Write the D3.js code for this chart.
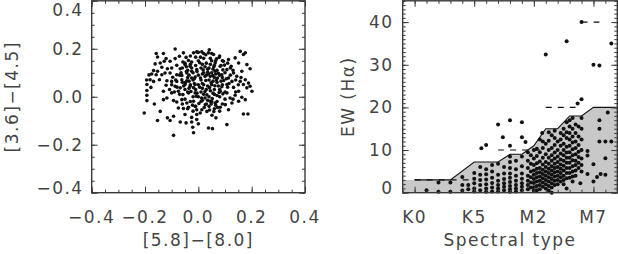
<!DOCTYPE html>
<html><head><meta charset="utf-8">
<script src="https://cdn.jsdelivr.net/npm/d3@7"></script>
<style>
html,body{margin:0;padding:0;background:#fff;}
svg{display:block;}
text{font-family:"DejaVu Sans",sans-serif;font-size:17px;fill:#444;letter-spacing:1.5px;}
</style></head><body>
<svg id="c" width="618" height="254"></svg>
<script>
// ---------- data ----------
const colorTicks = [-0.4, -0.2, 0, 0.2, 0.4];
const colorTickLabels = ["−0.4", "−0.2", "0.0", "0.2", "0.4"];
const colorXTitle = "[5.8]−[8.0]";
const colorYTitle = "[3.6]−[4.5]";
// [5.8]-[8.0], [3.6]-[4.5]
const colorPoints = [
[-0.087,0.199],[-0.158,0.180],[-0.153,0.166],[-0.131,0.180],[-0.121,0.159],[-0.106,0.148],[-0.087,0.159],[-0.071,0.169],
[-0.056,0.183],[-0.046,0.164],[-0.037,0.151],[-0.058,0.145],[-0.018,0.183],[-0.006,0.187],[-0.162,0.137],[-0.143,0.141],
[-0.128,0.148],[-0.137,0.123],[-0.168,0.109],[-0.153,0.106],[-0.116,0.117],[-0.100,0.120],[-0.081,0.131],[-0.068,0.117],
[-0.050,0.134],[-0.031,0.127],[-0.175,0.095],[-0.158,0.092],[-0.137,0.092],[-0.125,0.099],[-0.106,0.099],[-0.096,0.081],
[-0.081,0.092],[-0.062,0.089],[-0.043,0.099],[-0.025,0.106],[-0.006,0.113],[-0.181,0.071],[-0.168,0.064],[-0.146,0.071],
[-0.118,0.067],[-0.100,0.064],[-0.081,0.064],[-0.062,0.071],[-0.043,0.067],[-0.025,0.078],[-0.193,0.051],[-0.178,0.039],
[-0.121,0.048],[-0.108,0.030],[-0.087,0.044],[-0.068,0.037],[-0.050,0.051],[-0.031,0.044],[-0.012,0.051],[-0.193,0.026],
[-0.193,0.006],[-0.131,0.023],[-0.100,0.016],[-0.075,0.023],[-0.058,0.009],[-0.037,0.016],[-0.012,0.016],[-0.193,-0.016],
[-0.165,-0.030],[-0.131,-0.012],[-0.118,-0.005],[-0.093,-0.016],[-0.081,-0.022],[-0.062,-0.012],[-0.043,-0.026],[-0.018,-0.019],
[-0.075,-0.047],[-0.056,-0.049],[-0.037,-0.044],[-0.012,-0.040],[-0.006,-0.054],[-0.203,-0.068],[-0.143,-0.061],[-0.116,-0.088],
[-0.093,-0.081],[-0.050,-0.074],[-0.025,-0.086],[-0.006,-0.074],[-0.153,-0.099],[-0.106,-0.099],[-0.068,-0.105],[-0.046,-0.109],
[-0.025,-0.105],[-0.093,-0.161],[-0.021,-0.127],[-0.018,-0.150],[-0.194,0.070],[-0.185,0.091],
[0.041,0.196],[0.013,0.187],[0.057,0.176],[0.038,0.183],[0.078,0.164],[0.113,0.155],[0.094,0.148],[0.157,0.189],
[0.169,0.176],[0.176,0.183],[0.138,0.162],[0.151,0.141],[0.182,0.134],[0.194,0.117],[0.123,0.127],[0.107,0.113],
[0.082,0.127],[0.063,0.141],[0.163,0.106],[0.132,0.099],[0.144,0.085],[0.176,0.071],[0.188,0.057],[0.194,0.044],
[0.201,0.023],[0.182,0.037],[0.169,0.051],[0.157,0.064],[0.113,0.078],[0.088,0.092],[0.063,0.106],[0.126,0.064],
[0.107,0.051],[0.132,0.039],[0.151,0.023],[0.138,0.006],[0.163,-0.002],[0.119,-0.005],[0.107,0.016],[0.082,0.023],
[0.176,-0.012],[0.151,-0.019],[0.126,-0.026],[0.101,-0.033],[0.113,-0.054],[0.082,-0.044],[0.063,-0.026],[0.044,-0.019],
[0.026,-0.033],[0.013,-0.054],[0.007,-0.068],[0.032,-0.061],[0.051,-0.077],[0.066,-0.088],[0.169,-0.072],[0.186,-0.072],
[0.107,-0.116],[0.038,-0.130],[0.053,-0.133],[0.000,-0.113],[-0.006,-0.095],
[0.00,0.15],[0.02,0.16],[0.03,0.14],[-0.01,0.13],[0.01,0.12],[0.04,0.12],[0.05,0.15],[0.06,0.13],[0.07,0.11],[0.02,0.10],
[-0.02,0.10],[0.00,0.09],[0.03,0.09],[0.05,0.10],[0.08,0.09],[0.06,0.08],[0.04,0.07],[0.01,0.07],[-0.02,0.07],[-0.04,0.08],
[-0.03,0.05],[0.00,0.05],[0.02,0.05],[0.05,0.05],[0.07,0.06],[0.09,0.05],[0.08,0.03],[0.06,0.03],[0.03,0.03],[0.01,0.02],
[-0.01,0.03],[-0.04,0.02],[-0.02,0.00],[0.00,0.00],[0.02,0.01],[0.04,0.00],[0.06,0.01],[0.08,0.00],[0.07,-0.02],[0.05,-0.02],
[0.03,-0.03],[0.01,-0.02],[-0.01,-0.04],[0.04,-0.04],[0.06,-0.05],[0.09,-0.03],[0.10,0.02],[0.11,0.04],[0.09,0.08],[0.10,0.10],
[0.12,0.12],[0.11,0.14],[0.09,0.15],[0.08,0.17],[0.05,0.18],[0.02,0.18],[-0.03,0.17],[-0.05,0.14],[-0.06,0.12],[-0.04,0.11],
[-0.07,0.09],[-0.06,0.06],[-0.08,0.04],[-0.05,0.03],[-0.07,0.01],[-0.05,-0.01],[-0.03,-0.02],[-0.06,-0.03],[-0.04,-0.05],[-0.02,-0.06],
[0.015,0.135],[0.035,0.115],[0.055,0.115],[0.025,0.085],[0.045,0.085],[0.065,0.095],[0.015,0.055],[0.035,0.045],[0.055,0.065],[0.075,0.045],
[0.015,0.035],[-0.015,0.055],[-0.035,0.035],[0.045,0.025],[0.025,-0.005],[0.055,0.015],[-0.005,0.015],[0.015,-0.015],[0.035,-0.015],[0.065,-0.035],
[0.085,0.065],[0.105,0.075],[0.12,0.09],[0.13,0.11],[0.115,0.055],[0.10,-0.01],[0.08,-0.06],[0.045,0.16],[0.065,0.15],[0.085,0.13],
[-0.025,0.145],[-0.045,0.125],[-0.065,0.10],[-0.085,0.07],[-0.01,0.165],[0.0,0.185],[-0.025,0.12],[-0.055,0.045],[-0.09,0.02],[-0.1,0.05],
[0.14,0.02],[0.13,-0.01],[0.15,0.05],[0.16,0.08],[0.14,0.07],
[0.005,0.142],[0.025,0.125],[0.045,0.135],[-0.005,0.105],[0.015,0.095],[0.035,0.102],[0.055,0.088],[0.072,0.078],[-0.012,0.082],[0.008,0.078],
[0.028,0.068],[0.048,0.058],[0.068,0.07],[-0.018,0.038],[0.005,0.04],[0.025,0.022],[0.042,0.038],[0.062,0.046],[0.078,0.018],[-0.028,0.022],
[-0.008,0.002],[0.012,-0.005],[0.032,0.008],[0.052,-0.008],[0.07,0.005],[0.022,-0.045],[0.042,-0.055],[0.058,-0.062],[0.002,-0.028],[-0.022,-0.035],
[0.018,0.112],[0.038,0.095],[0.058,0.125],[0.075,0.098],[0.092,0.112],[0.095,0.068],[0.088,0.042],[0.092,0.012],[0.072,-0.045],[0.048,-0.03],
[-0.035,0.09],[-0.048,0.06],[-0.035,0.065],[-0.015,0.075],[-0.045,0.105],[-0.03,0.135],[0.008,0.165],[0.028,0.175],[0.068,0.158],[0.098,0.132]
];

// Spectral type coded K0=0 ... K7=7, M0=8 ... M7=15
const spTickValues = [0, 5, 10, 15];
const spTickLabels = ["K0", "K5", "M2", "M7"];
const ewTicks = [0, 10, 20, 30, 40];
const ewTickLabels = ["0", "10", "20", "30", "40"];
const spXTitle = "Spectral type";
const spYTitle = "EW (Hα)";
// saturation criterion (shaded region upper envelope)
const satSpT = [-1, 0, 3, 5, 7, 8, 9, 10, 11, 12, 13, 14, 15, 17];
const satEW  = [3, 3, 3, 7.2, 7.2, 9, 9, 11, 15, 15, 18, 18, 20, 20];
// White & Basri criterion (dashed)
const wbStart = [0, 7, 11, 14];
const wbEnd   = [5, 10.5, 13.5, 15.5];
const wbEW    = [3, 10, 20, 40];
// [spectral type, EW(Halpha)]
const haPoints = [
[1,0.6],[2,2.4],[2,0.2],[3,2.4],[3,0.2],
[4,3.7],[4,1.8],[4,0.5],[4.5,1.8],[4.5,0.8],
[5,4.6],[5,3.3],[5,2.2],[5,1.0],[5,0.3],
[5.5,6.0],[5.5,4.2],[5.5,3.0],[5.5,1.8],[5.5,0.6],[5.6,10.4],
[6,11.2],[6,5.5],[6,4.3],[6,3.1],[6,2.0],[6,1.0],[6,0.2],
[6.5,6.5],[6.5,5.0],[6.5,3.5],[6.5,2.3],[6.5,1.2],[6.5,0.3],
[7,16],[7,6.8],[7,4.2],[7,2.8],[7,1.8],[7,1.0],[7,0.3],[7.4,13],
[7.5,6.0],[7.5,4.5],[7.5,3.2],[7.5,2.2],[7.5,1.4],[7.5,0.6],
[8,17],[8,11],[8,8.5],[8,7.2],[8,5.8],[8,4.5],[8,3.5],[8,2.5],[8,1.6],[8,0.8],[8,0.2],
[8.5,7.5],[8.5,5.5],[8.5,4],[8.5,2.8],[8.5,1.8],[8.5,1.0],[8.5,0.3],
[9,16.5],[9,13],[9,8.5],[9,6.2],[9,4.5],[9,3.3],[9,2.2],[9,1.4],[9,0.6],[9.3,11.9],
[9.5,9.5],[9.5,7.5],[9.5,5.8],[9.5,4.0],[9.5,2.8],[9.5,1.8],[9.5,0.8],
[9.75,8.8],[9.75,6.8],[9.75,5.0],[9.75,3.6],[9.75,2.4],[9.75,1.2],
[10,10],[10,8],[10,6.5],[10,5.2],[10,4.2],[10,3.2],[10,2.3],[10,1.3],[10,0.5],
[10.25,10.3],[10.25,8.6],[10.25,6.9],[10.25,5.6],[10.25,4.6],[10.25,3.6],[10.25,2.6],[10.25,1.6],[10.25,0.6],
[10.5,12.5],[10.5,9.5],[10.5,7.3],[10.5,5.8],[10.5,4.8],[10.5,3.8],[10.5,2.8],[10.5,1.8],[10.5,0.8],[10.7,14],
[10.75,12.0],[10.75,10.5],[10.75,8.2],[10.75,6.6],[10.75,5.4],[10.75,4.4],[10.75,3.4],[10.75,2.4],[10.75,1.4],
[11,32.4],[11,11.5],[11,9],[11,7.2],[11,6],[11,5],[11,4],[11,3],[11,2],[11,1],
[11.25,14.2],[11.25,12.2],[11.25,10.0],[11.25,8.2],[11.25,6.8],[11.25,5.6],[11.25,4.6],[11.25,3.6],[11.25,2.6],[11.25,1.6],[11.25,0.5],
[11.5,13.5],[11.5,10.5],[11.5,8.8],[11.5,7.5],[11.5,6.2],[11.5,5.2],[11.5,4.2],[11.5,3.2],[11.5,2.2],[11.5,1.2],[11.5,0],
[11.75,14.5],[11.75,12.8],[11.75,11.2],[11.75,9.4],[11.75,8.0],[11.75,6.8],[11.75,5.8],[11.75,4.8],[11.75,3.8],[11.75,2.8],[11.75,1.8],
[12,12],[12,10],[12,8.5],[12,7.2],[12,6],[12,5],[12,4],[12,3],[12,2],
[12.25,14.0],[12.25,12.5],[12.25,11.0],[12.25,9.2],[12.25,7.8],[12.25,6.6],[12.25,5.6],[12.25,4.6],[12.25,3.6],[12.25,2.6],
[12.5,15],[12.5,13.5],[12.5,11.5],[12.5,10],[12.5,8.8],[12.5,7.5],[12.5,6.3],[12.5,5.2],[12.5,4],[12.5,3],[12.5,2],
[12.75,35.5],[12.75,16.5],[12.75,14.2],[12.75,12.8],[12.75,10.8],[12.75,9.4],[12.75,8.2],[12.75,7.0],[12.75,5.8],[12.75,4.6],[12.75,3.4],[12.75,1.0],
[13,17],[13,15.5],[13,14],[13,12.5],[13,11],[13,9.5],[13,8.2],[13,7],[13,5.8],[13,4.6],[13,3.5],
[13.25,17.5],[13.25,15.0],[13.25,13.2],[13.25,11.8],[13.25,10.2],[13.25,8.8],[13.25,7.6],[13.25,6.2],[13.25,5.0],[13.25,3.8],[13.25,2.6],
[13.5,16],[13.5,14],[13.5,12],[13.5,10.5],[13.5,9],[13.5,7.5],[13.5,6.5],[13.5,5.2],[13.5,4],[13.67,20.9],
[13.75,15.5],[13.75,13.2],[13.75,11.2],[13.75,9.6],[13.75,8.4],[13.75,7.0],[13.75,5.8],
[14,40],[14,21.9],[14,17.5],[14,15],[14,12.5],[14,10],[14,8],[14,6.5],[14,5],[13.9,2.2],
[14.5,9.8],[14.5,8.7],[14.5,4.4],
[15,30],[15,6.7],[15,2.6],[15.3,3.7],
[15.5,29.8],[15.5,17],[15.5,15],[15.5,12],[15.6,4.4],
[16,12],[16,8.1],[16,4.2],[16.2,18.8],
[16.5,35],[16.5,12]
];

// ---------- drawing ----------
const svg = d3.select("#c");
const ink = "#111";
const frameCol = "#3a3a3a";
const clampY = y => Math.max(10, Math.min(188, y));

function frameAndTicks(g, x, y, opt) {
  const [x0, x1] = x.range(), [y0, y1] = y.range();
  const mk = (axis, tr) => g.append("g").attr("transform", tr).call(axis)
      .call(s => s.select(".domain").remove())
      .call(s => s.selectAll("line").attr("stroke", frameCol).attr("stroke-width", 1));
  mk(d3.axisBottom(x).tickValues(opt.xMajor).tickSize(-6).tickFormat(""), `translate(0,${y0})`);
  mk(d3.axisBottom(x).tickValues(opt.xMinor).tickSize(-3).tickFormat(""), `translate(0,${y0})`);
  mk(d3.axisTop(x).tickValues(opt.xMajor).tickSize(-6).tickFormat(""), `translate(0,${y1})`);
  mk(d3.axisTop(x).tickValues(opt.xMinor).tickSize(-3).tickFormat(""), `translate(0,${y1})`);
  mk(d3.axisLeft(y).tickValues(opt.yMajor).tickSize(-6).tickFormat(""), `translate(${x0},0)`);
  mk(d3.axisLeft(y).tickValues(opt.yMinor).tickSize(-3).tickFormat(""), `translate(${x0},0)`);
  mk(d3.axisRight(y).tickValues(opt.yMajor).tickSize(-6).tickFormat(""), `translate(${x1},0)`);
  mk(d3.axisRight(y).tickValues(opt.yMinor).tickSize(-3).tickFormat(""), `translate(${x1},0)`);
  g.append("rect").attr("x", x0).attr("y", y1).attr("width", x1 - x0).attr("height", y0 - y1)
    .attr("fill", "none").attr("stroke", frameCol).attr("stroke-width", 1.4);
  g.selectAll(null).data(opt.xMajor).enter().append("text")
    .attr("x", d => x(d)).attr("y", 217).attr("dy", "0.35em").attr("text-anchor", "middle")
    .text((d, i) => opt.xLabels[i]);
  g.selectAll(null).data(opt.yMajor).enter().append("text")
    .attr("x", x0 - opt.yPad).attr("y", d => clampY(y(d))).attr("dy", "0.35em").attr("text-anchor", "end")
    .text((d, i) => opt.yLabels[i]);
  g.append("text").attr("x", (x0 + x1) / 2).attr("y", 240).attr("dy", "0.35em")
    .attr("text-anchor", "middle").text(opt.xTitle);
  g.append("text").attr("transform", `translate(${opt.yTitleX},${(y0 + y1) / 2}) rotate(-90)`)
    .attr("dy", "0.35em").attr("text-anchor", "middle").text(opt.yTitle);
}

const range = (a, b, s) => d3.range(Math.round((b - a) / s) + 1).map(i => +(a + i * s).toFixed(4));

// Left panel
const xL = d3.scaleLinear().domain([-0.4, 0.4]).range([91.7, 305]);
const yL = d3.scaleLinear().domain([-0.4, 0.4]).range([192.7, 0.8]);
const gL = svg.append("g");
gL.selectAll("circle").data(colorPoints).enter().append("circle")
  .attr("cx", d => xL(d[0])).attr("cy", d => yL(d[1])).attr("r", 1.8).attr("fill", ink);
frameAndTicks(gL, xL, yL, {
  xMajor: colorTicks, xMinor: range(-0.4, 0.4, 0.05), yMajor: colorTicks, yMinor: range(-0.4, 0.4, 0.05),
  xLabels: colorTickLabels, yLabels: colorTickLabels, yPad: 8, xTitle: colorXTitle, yTitle: colorYTitle, yTitleX: 12.5
});

// Right panel
const xR = d3.scaleLinear().domain([-1, 17]).range([402.7, 617.3]);
const yR = d3.scaleLinear().domain([0, 45]).range([192.7, 0.8]);
const gR = svg.append("g");
const satPts = satSpT.map((s, i) => [s, satEW[i]]);
const area = d3.area().x(d => xR(d[0])).y0(yR(0)).y1(d => yR(d[1]));
gR.append("path").datum(satPts).attr("d", area).attr("fill", "#c8c8c8");
gR.append("path").datum(satPts.filter(d => d[0] >= 0))
  .attr("d", d3.line().x(d => xR(d[0])).y(d => yR(d[1])))
  .attr("fill", "none").attr("stroke", ink).attr("stroke-width", 1.1);
gR.selectAll("line.wb").data(wbEW).enter().append("line")
  .attr("x1", (d, i) => xR(wbStart[i])).attr("x2", (d, i) => xR(wbEnd[i]))
  .attr("y1", d => yR(d)).attr("y2", d => yR(d))
  .attr("stroke", ink).attr("stroke-width", 1.1).attr("stroke-dasharray", "6,6");
gR.selectAll("circle").data(haPoints).enter().append("circle")
  .attr("cx", d => xR(d[0])).attr("cy", d => yR(d[1])).attr("r", 2.0).attr("fill", ink);
frameAndTicks(gR, xR, yR, {
  xMajor: spTickValues, xMinor: range(-1, 17, 1), yMajor: ewTicks, yMinor: range(0, 45, 1),
  xLabels: spTickLabels, yLabels: ewTickLabels, yPad: 9, xTitle: spXTitle, yTitle: spYTitle, yTitleX: 348
});
</script>
</body></html>
